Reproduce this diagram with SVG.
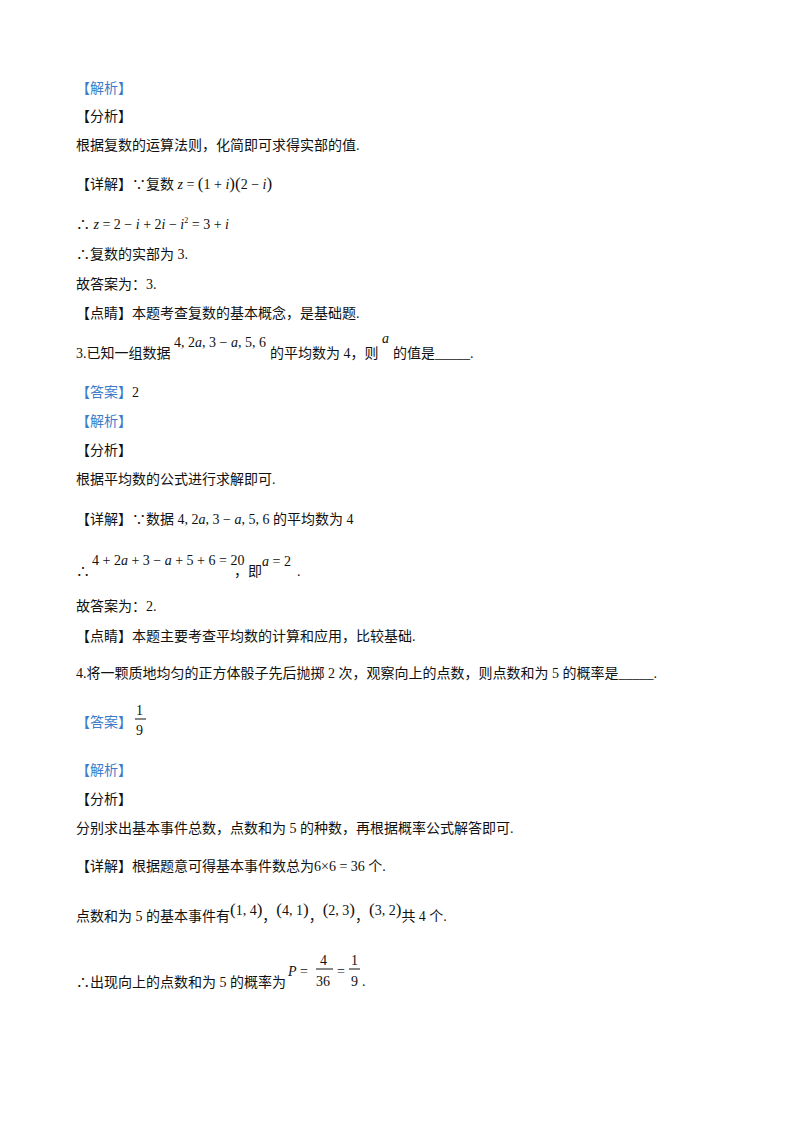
<svg xmlns="http://www.w3.org/2000/svg" width="800" height="1132" viewBox="0 0 800 1132">
<style>
text{font-family:"Liberation Serif","Noto Sans CJK SC",serif;font-size:14px;fill:#111}
.b{fill:#3d7cc9}
.m{font-family:"Liberation Serif",serif;font-size:14px}
.i{font-style:italic}
.L{font-size:17px}
</style>
<rect width="800" height="1132" fill="#fff"/>
<text class="b" x="76" y="93">【解析】</text>
<text x="76" y="121">【分析】</text>
<text x="76" y="150">根据复数的运算法则，化简即可求得实部的值.</text>
<text x="76" y="189">【详解】∵复数<tspan class="m i" font-size="13"> z</tspan><tspan class="m" font-size="13"> = </tspan><tspan class="m L">(</tspan><tspan class="m">1 + </tspan><tspan class="m i">i</tspan><tspan class="m L">)(</tspan><tspan class="m">2 − </tspan><tspan class="m i">i</tspan><tspan class="m L">)</tspan></text>
<text x="76" y="229">∴ <tspan class="m" font-size="13"><tspan class="i">z</tspan> = 2 − <tspan class="i">i</tspan> + 2<tspan class="i">i</tspan> − <tspan class="i">i</tspan><tspan font-size="8" dy="-6">2</tspan><tspan dy="6"> = 3 + </tspan><tspan class="i">i</tspan></tspan></text>
<text x="76" y="259">∴复数的实部为 3.</text>
<text x="76" y="289">故答案为：3.</text>
<text x="76" y="318">【点睛】本题考查复数的基本概念，是基础题.</text>
<text x="76" y="358">3.已知一组数据</text>
<text class="m" x="174" y="347" font-size="16">4, 2<tspan class="i">a</tspan>, 3 − <tspan class="i">a</tspan>, 5, 6</text>
<text x="270" y="358">的平均数为 4，则</text>
<text class="m i" x="382" y="343" font-size="16">a</text>
<text x="393" y="358">的值是_____.</text>
<text x="76" y="397"><tspan class="b">【答案】</tspan>2</text>
<text class="b" x="76" y="426">【解析】</text>
<text x="76" y="455">【分析】</text>
<text x="76" y="484">根据平均数的公式进行求解即可.</text>
<text x="76" y="524">【详解】∵数据 <tspan class="m" font-size="16">4, 2<tspan class="i">a</tspan>, 3 − <tspan class="i">a</tspan>, 5, 6</tspan> 的平均数为 4</text>
<text x="76" y="576">∴</text>
<text class="m" x="92" y="565" font-size="12">4 + 2<tspan class="i">a</tspan> + 3 − <tspan class="i">a</tspan> + 5 + 6 = 20</text>
<text x="234" y="576">，即</text>
<text class="m" x="262" y="566" font-size="17"><tspan class="i">a</tspan> = 2</text>
<text x="297" y="576">.</text>
<text x="76" y="611">故答案为：2.</text>
<text x="76" y="641">【点睛】本题主要考查平均数的计算和应用，比较基础.</text>
<text x="76" y="678">4.将一颗质地均匀的正方体骰子先后抛掷 2 次，观察向上的点数，则点数和为 5 的概率是_____.</text>
<text class="b" x="76" y="727">【答案】</text>
<text class="m" x="136" y="715" font-size="16">1</text>
<line x1="135" y1="719" x2="146" y2="719" stroke="#111" stroke-width="1"/>
<text class="m" x="136" y="735" font-size="16">9</text>
<text class="b" x="76" y="775">【解析】</text>
<text x="76" y="804">【分析】</text>
<text x="76" y="833">分别求出基本事件总数，点数和为 5 的种数，再根据概率公式解答即可.</text>
<text x="76" y="871">【详解】根据题意可得基本事件数总为<tspan class="m" font-size="16">6×6 = 36</tspan> 个.</text>
<text x="76" y="921">点数和为 5 的基本事件有<tspan class="m" font-size="15" dy="-6"><tspan class="L">(</tspan>1, 4<tspan class="L">)</tspan></tspan><tspan dy="6">，</tspan><tspan class="m" font-size="15" dy="-6"><tspan class="L">(</tspan>4, 1<tspan class="L">)</tspan></tspan><tspan dy="6">，</tspan><tspan class="m" font-size="15" dy="-6"><tspan class="L">(</tspan>2, 3<tspan class="L">)</tspan></tspan><tspan dy="6">，</tspan><tspan class="m" font-size="15" dy="-6"><tspan class="L">(</tspan>3, 2<tspan class="L">)</tspan></tspan><tspan dy="6">共 4 个.</tspan></text>
<text x="76" y="987">∴出现向上的点数和为 5 的概率为</text>
<text class="m" x="288" y="976" font-size="17"><tspan class="i">P</tspan> =</text>
<text class="m" x="320" y="965" font-size="15">4</text>
<line x1="316" y1="969" x2="333" y2="969" stroke="#111"/>
<text class="m" x="316" y="986" font-size="15">36</text>
<text class="m" x="337" y="976" font-size="15">=</text>
<text class="m" x="351" y="965" font-size="15">1</text>
<line x1="349" y1="969" x2="360" y2="969" stroke="#111"/>
<text class="m" x="351" y="986" font-size="15">9</text>
<text x="362" y="986">.</text>
</svg>
